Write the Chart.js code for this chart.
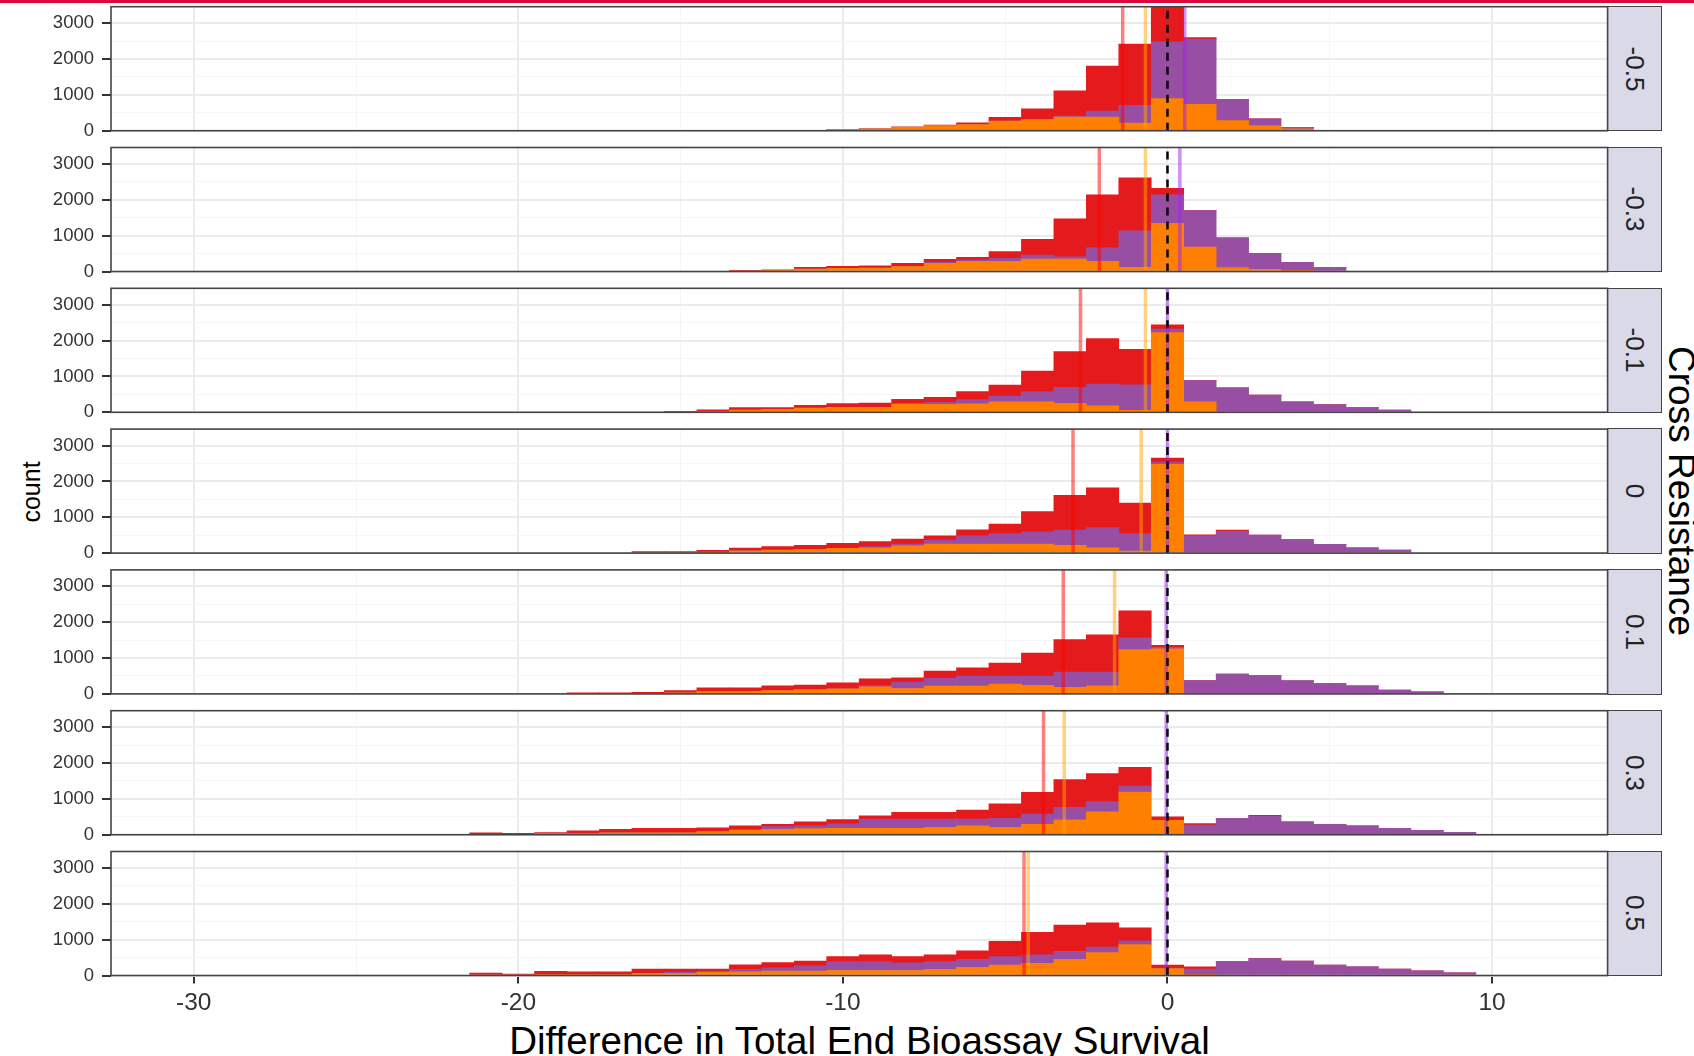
<!DOCTYPE html>
<html>
<head>
<meta charset="utf-8">
<title>Difference in Total End Bioassay Survival</title>
<script src="https://cdn.jsdelivr.net/npm/chart.js@4.4.1/dist/chart.umd.min.js"></script>
<style>
  html, body { margin: 0; padding: 0; background: #fff; }
  body { width: 1694px; height: 1056px; position: relative; overflow: hidden; font-family: "Liberation Sans", Arial, sans-serif; }
  canvas { position: absolute; left: 0; top: 0; }
  .topline { position: absolute; left: 0; top: 0; width: 1694px; height: 3px; background: #dc0a3c; }
  .strip { position: absolute; box-sizing: border-box; border: 1.5px solid #444; background: #d9d9e8; }
  .strip span, .rot { position: absolute; white-space: nowrap; }
  .strip span { left: 50%; top: 50%; transform: translate(-50%, -50%) rotate(90deg); font-size: 26px; color: #222; }
  .xtitle { position: absolute; left: 111px; width: 1497px; top: 1022px; text-align: center; font-size: 38.5px; line-height: 37px; color: #000; }
  .ytitle { left: 31px; top: 492px; transform: translate(-50%, -50%) rotate(-90deg); font-size: 25px; line-height: 25px; color: #000; }
  .facettitle { left: 1681px; top: 491px; transform: translate(-50%, -50%) rotate(90deg); font-size: 37px; line-height: 37px; color: #000; }
</style>
</head>
<body>
<div class="topline"></div>
<div class="xtitle">Difference in Total End Bioassay Survival</div>
<div class="rot ytitle">count</div>
<div class="rot facettitle">Cross Resistance</div>
<script>
// facet values (Cross Resistance) and first histogram bin centre of each facet
const panelLabels = ["-0.5", "-0.3", "-0.1", "0", "0.1", "0.3", "0.5"];
const firstBin = [-10, -13, -15, -16, -18, -21, -21];

// stacked counts per bin (bin width 1), bottom to top: orange, purple, red
const orangeCounts = [
  [25, 50, 100, 140, 170, 265, 310, 380, 380, 215, 895, 735, 283, 140, 55],
  [0, 40, 65, 85, 95, 140, 225, 280, 283, 350, 350, 283, 113, 1340, 680, 110, 60, 30, 0],
  [0, 10, 65, 85, 120, 140, 140, 225, 225, 235, 290, 290, 245, 180, 55, 2225, 290, 0, 0, 0, 0, 0, 0],
  [0, 0, 20, 65, 85, 105, 130, 150, 200, 255, 255, 255, 255, 215, 150, 55, 2480, 0, 0, 0, 0, 0, 0, 0],
  [0, 0, 0, 30, 75, 75, 95, 120, 140, 200, 150, 215, 215, 275, 235, 180, 225, 1235, 1255, 0, 0, 0, 0, 0, 0, 0, 0],
  [0, 0, 20, 30, 55, 55, 55, 85, 120, 150, 170, 180, 180, 180, 200, 245, 200, 290, 415, 640, 1190, 400, 0, 0, 0, 0, 0, 0, 0, 0, 0],
  [0, 0, 30, 30, 30, 55, 55, 85, 105, 120, 120, 140, 140, 140, 170, 225, 290, 340, 450, 640, 860, 190, 20, 0, 0, 0, 0, 0, 0, 0, 0],
];
const purpleCounts = [
  [0, 0, 0, 0, 0, 0, 0, 30, 170, 490, 1585, 1820, 595, 190, 40],
  [0, 0, 0, 0, 0, 0, 30, 40, 85, 110, 60, 377, 1020, 800, 1020, 830, 450, 225, 110],
  [0, 0, 0, 0, 0, 0, 0, 20, 50, 120, 160, 280, 450, 610, 710, 95, 595, 680, 480, 290, 215, 130, 65],
  [0, 0, 0, 0, 0, 0, 0, 30, 50, 105, 225, 290, 340, 425, 560, 490, 60, 480, 610, 500, 375, 245, 150, 85],
  [0, 0, 0, 0, 0, 0, 0, 0, 0, 30, 180, 220, 285, 225, 265, 430, 385, 330, 45, 370, 555, 510, 375, 285, 225, 110, 55],
  [0, 0, 0, 0, 0, 0, 0, 0, 30, 75, 75, 120, 255, 255, 235, 190, 255, 285, 350, 285, 170, 0, 265, 460, 510, 360, 290, 245, 180, 120, 65],
  [0, 0, 0, 0, 0, 0, 30, 40, 65, 95, 150, 245, 245, 215, 215, 225, 235, 235, 220, 150, 110, 20, 160, 385, 470, 405, 290, 245, 180, 130, 75],
];
const redCounts = [
  [0, 0, 0, 20, 50, 110, 300, 700, 1250, 1710, 1300, 40, 0, 0, 0],
  [35, 0, 50, 60, 60, 85, 85, 75, 188, 435, 1060, 1480, 1480, 180, 0, 0, 0, 0, 0],
  [25, 60, 65, 50, 75, 105, 115, 120, 140, 220, 310, 580, 1000, 1270, 990, 120, 0, 0, 0, 0, 0, 0, 0],
  [40, 40, 55, 75, 95, 110, 140, 140, 140, 120, 170, 265, 565, 975, 1110, 850, 110, 30, 30, 0, 0, 0, 0, 0],
  [20, 20, 45, 60, 95, 95, 130, 125, 170, 190, 120, 205, 225, 360, 640, 905, 1040, 755, 55, 0, 0, 0, 0, 0, 0, 0, 0],
  [55, 35, 40, 80, 95, 125, 125, 110, 95, 65, 115, 120, 95, 190, 190, 255, 405, 610, 775, 780, 520, 100, 45, 0, 30, 0, 0, 0, 0, 0, 0],
  [65, 40, 85, 75, 75, 125, 95, 55, 125, 145, 135, 145, 190, 170, 190, 235, 425, 630, 735, 680, 360, 80, 65, 0, 0, 0, 0, 0, 0, 0, 0],
];

// group means drawn as vertical lines
const meanRed = [-1.38, -2.1, -2.68, -2.91, -3.21, -3.82, -4.42];
const meanOrange = [-0.68, -0.68, -0.68, -0.81, -1.63, -3.18, -4.29];
const meanPurple = [0.53, 0.38, 0, 0, -0.04, -0.04, -0.04];

const xGrid = [-30, -25, -20, -15, -10, -5, 0, 5, 10];
const xTickLabels = [-30, -20, -10, 0, 10];
const yGrid = [0, 500, 1000, 1500, 2000, 2500, 3000];
const yTickLabels = [0, 1000, 2000, 3000];

const X_MIN = -32.55;
const X_MAX = 13.56;
const Y_MAX = 3460;

const W = 1694;
const H = 1056;
const PLOT_LEFT = 111;
const PLOT_RIGHT = 1607.6;
const PANEL_TOP = 6.7;
const PANEL_STEP = 140.8;
const PANEL_H = 124;
const X_AXIS_H = 40;

Chart.defaults.font.family = '"Liberation Sans", Arial, sans-serif';

const toPoints = (counts, first) => counts.map((v, k) => ({ x: first + k, y: v }));
const vLine = x => [{ x: x, y: 0 }, { x: x, y: Y_MAX }];

// grid options are also resolved without a tick, so guard it
const isMajor = (c, labels) => !!c.tick && labels.includes(c.tick.value);

const barSet = (counts, first, color) => ({
  data: toPoints(counts, first),
  backgroundColor: color,
  borderWidth: 0,
  barPercentage: 1,
  categoryPercentage: 1,
  stack: "hist",
  order: 10,
});

const lineSet = (x, color, width, key, order, dash) => ({
  type: "line",
  data: vLine(x),
  borderColor: color,
  borderWidth: width,
  borderDash: dash || [],
  pointRadius: 0,
  stack: key,
  order: order,
});

const panelFrame = {
  id: "panelFrame",
  afterDraw(chart) {
    const { ctx, chartArea: a } = chart;
    ctx.save();
    ctx.strokeStyle = "#444";
    ctx.lineWidth = 1.6;
    ctx.strokeRect(a.left, a.top, a.right - a.left, a.bottom - a.top);
    ctx.restore();
  },
};

panelLabels.forEach((label, i) => {
  const top = PANEL_TOP + PANEL_STEP * i;
  const last = i === panelLabels.length - 1;
  const axisH = last ? X_AXIS_H : 0;

  // facet strip on the right of the panel
  const strip = document.createElement("div");
  strip.className = "strip";
  strip.style.left = PLOT_RIGHT - 0.8 + "px";
  strip.style.top = top - 0.8 + "px";
  strip.style.width = "55px";
  strip.style.height = PANEL_H + 1.6 + "px";
  const text = document.createElement("span");
  text.textContent = label;
  strip.appendChild(text);
  document.body.appendChild(strip);

  const canvas = document.createElement("canvas");
  canvas.width = W;
  canvas.height = H;
  document.body.appendChild(canvas);

  new Chart(canvas.getContext("2d"), {
    type: "bar",
    data: {
      datasets: [
        barSet(orangeCounts[i], firstBin[i], "#FF7F00"),
        barSet(purpleCounts[i], firstBin[i], "#984EA3"),
        barSet(redCounts[i], firstBin[i], "#E41A1C"),
        lineSet(meanPurple[i], "rgba(160,32,240,0.5)", 3.5, "mPurple", 3),
        lineSet(meanRed[i], "rgba(255,0,0,0.5)", 3.5, "mRed", 2),
        lineSet(meanOrange[i], "rgba(255,165,0,0.5)", 3.5, "mOrange", 1),
        lineSet(0, "#000", 2.5, "zero", 0, [8, 6]),
      ],
    },
    options: {
      responsive: false,
      animation: false,
      events: [],
      layout: {
        padding: { left: 0, right: W - PLOT_RIGHT, top: top, bottom: H - top - PANEL_H - axisH },
      },
      plugins: { legend: { display: false }, tooltip: { enabled: false } },
      scales: {
        x: {
          type: "linear",
          min: X_MIN,
          max: X_MAX,
          offset: false,
          afterBuildTicks: s => {
            s.ticks = xGrid.map(v => ({ value: v }));
          },
          afterFit: s => {
            s.height = axisH;
            s.paddingLeft = 0;
            s.paddingRight = 0;
          },
          border: { display: false },
          grid: {
            offset: false,
            color: c => (isMajor(c, xTickLabels) ? "#EBEBEB" : "#F5F5F5"),
            lineWidth: c => (isMajor(c, xTickLabels) ? 2 : 1),
            drawTicks: last,
            tickLength: 8,
            tickWidth: 2,
            tickColor: c => (isMajor(c, xTickLabels) ? "#333" : "rgba(0,0,0,0)"),
          },
          ticks: {
            display: last,
            autoSkip: false,
            maxRotation: 0,
            padding: 5,
            color: "#333",
            font: { size: 24.5 },
            callback: v => (xTickLabels.includes(v) ? String(v) : ""),
          },
        },
        y: {
          stacked: true,
          min: 0,
          max: Y_MAX,
          afterBuildTicks: s => {
            s.ticks = yGrid.map(v => ({ value: v }));
          },
          afterFit: s => {
            s.width = PLOT_LEFT;
            s.paddingTop = 0;
            s.paddingBottom = 0;
          },
          border: { display: false },
          grid: {
            color: c => (isMajor(c, yTickLabels) ? "#EBEBEB" : "#F5F5F5"),
            lineWidth: c => (isMajor(c, yTickLabels) ? 2 : 1),
            tickLength: 9,
            tickWidth: 2,
            tickColor: c => (isMajor(c, yTickLabels) ? "#333" : "rgba(0,0,0,0)"),
          },
          ticks: {
            autoSkip: false,
            padding: 8,
            color: "#333",
            font: { size: 18.5 },
            callback: v => (yTickLabels.includes(v) ? String(v) : ""),
          },
        },
      },
    },
    plugins: [panelFrame],
  });
});
</script>
</body>
</html>
